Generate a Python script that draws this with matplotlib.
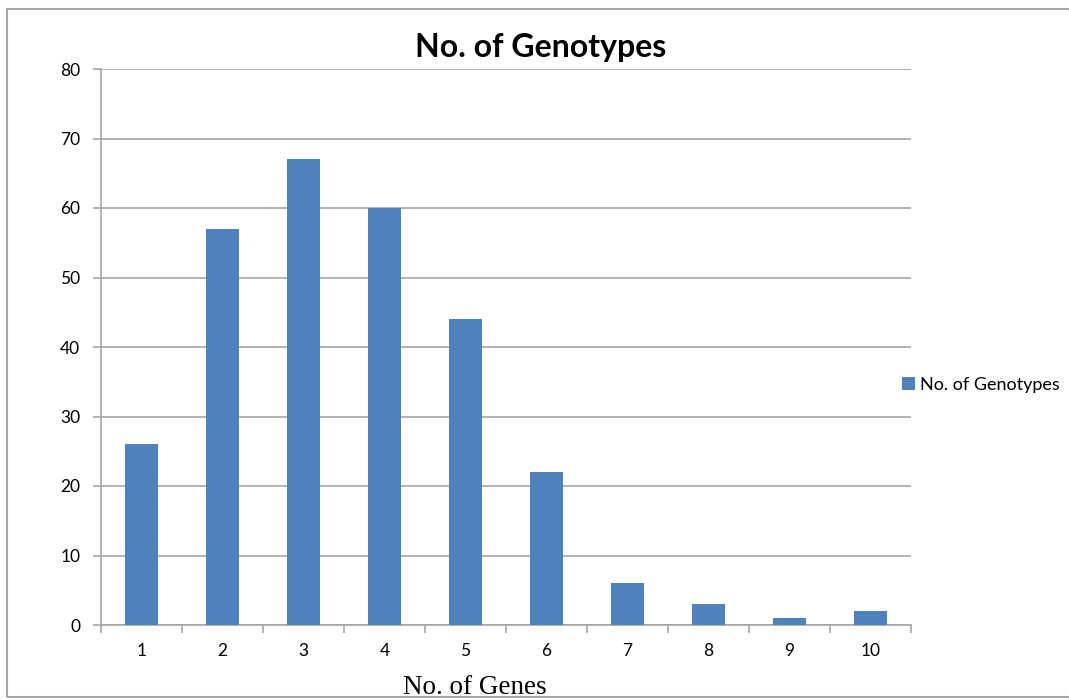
import matplotlib
matplotlib.use('Agg')
import matplotlib.pyplot as plt
from matplotlib.patches import Rectangle

genes = ['1', '2', '3', '4', '5', '6', '7', '8', '9', '10']
genotypes = [26, 57, 67, 60, 44, 22, 6, 3, 1, 2]
y_ticks = [0, 10, 20, 30, 40, 50, 60, 70, 80]

bar_color = '#4F81BD'
line_color = '#A6A6A6'
sans = ['Lato', 'DejaVu Sans']

fig = plt.figure(figsize=(10.69, 7.0), dpi=100)
ax = fig.add_axes([101 / 1069, 1 - 625 / 700, 810 / 1069, 556 / 700])

x = list(range(1, len(genes) + 1))
ax.bar(x, genotypes, width=0.4, color=bar_color, zorder=3, label='No. of Genotypes')

ax.set_xlim(0.5, len(genes) + 0.5)
ax.set_ylim(0, 80)
ax.set_yticks(y_ticks)
ax.set_yticklabels([str(v) for v in y_ticks], fontsize=12.5, family=sans)
ax.yaxis.grid(True, color=line_color, linewidth=1.2, zorder=0)

# category boundaries carry the tick marks, labels sit at the centres
ax.set_xticks([i + 0.5 for i in range(len(genes) + 1)])
ax.set_xticklabels([])
ax.set_xticks(x, minor=True)
ax.set_xticklabels(genes, minor=True, fontsize=12.5, family=sans)
ax.tick_params(axis='x', which='major', length=6, width=1.2, color=line_color, direction='out')
ax.tick_params(axis='x', which='minor', length=0, pad=13)
ax.tick_params(axis='y', length=6, width=1.2, color=line_color, direction='out', pad=9)

for side in ['top', 'right']:
    ax.spines[side].set_visible(False)
for side in ['left', 'bottom']:
    ax.spines[side].set_color(line_color)
    ax.spines[side].set_linewidth(1.2)

fig.text(541 / 1069, 1 - 48 / 700, 'No. of Genotypes', ha='center', va='center',
         fontsize=23, fontweight='bold', family=sans)
fig.text(475 / 1069, 1 - 688 / 700, 'No. of Genes', ha='center', va='center',
         fontsize=19.5, family=['Liberation Serif', 'DejaVu Serif'])

fig.legend(loc='center left', bbox_to_anchor=(886 / 1069, 1 - 385 / 700), frameon=False,
           prop={'family': sans, 'size': 13}, handlelength=0.7, handleheight=0.7,
           handletextpad=0.3)

# outer chart frame, open on the right
fig.add_artist(Rectangle((7 / 1069, 1 - 697 / 700), 1.1, 688 / 700, transform=fig.transFigure,
                         fill=False, edgecolor=line_color, linewidth=1.5, clip_on=False))

fig.savefig('out.png', dpi=100)
